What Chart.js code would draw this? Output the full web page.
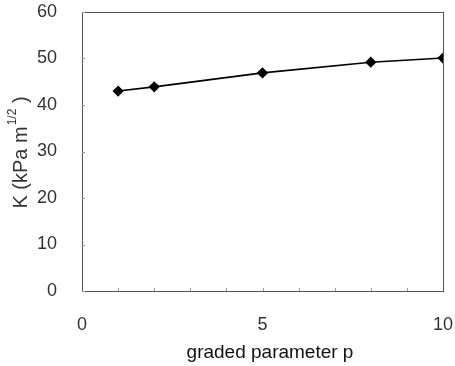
<!DOCTYPE html>
<html>
<head>
<meta charset="utf-8">
<script src="https://cdn.jsdelivr.net/npm/chart.js@4/dist/chart.umd.min.js"></script>
<style>
html,body{margin:0;padding:0;background:#fff;}
#wrap{width:455px;height:366px;}
</style>
</head>
<body>
<div id="wrap"><canvas id="c" width="455" height="366"></canvas></div>
<script>
const pValues = [1, 2, 5, 8, 10];
const kValues = [43.0, 43.9, 46.9, 49.2, 50.1];
const xTicks = [0, 5, 10];
const yTicks = [0, 10, 20, 30, 40, 50, 60];
const xTitle = 'graded parameter p';
const yTitleMain = 'K (kPa m';
const yTitleSup = '1/2';
const yTitleEnd = ' )';

const FONT = '"Liberation Sans", Arial, sans-serif';

const framePlugin = {
  id: 'frame',
  afterDatasetsDraw(chart) {
    const {ctx, chartArea: a, scales} = chart;
    ctx.save();
    ctx.strokeStyle = '#555';
    ctx.lineWidth = 1;
    ctx.strokeRect(a.left + 0.5, a.top + 0.5, a.right - a.left, a.bottom - a.top);
    ctx.strokeStyle = '#999';
    ctx.beginPath();
    yTicks.forEach(v => {
      const y = Math.round(scales.y.getPixelForValue(v)) + 0.5;
      ctx.moveTo(a.left, y); ctx.lineTo(a.left + 3, y);
    });
    for (let v = 1; v < 10; v++) {
      const x = Math.round(scales.x.getPixelForValue(v)) + 0.5;
      ctx.moveTo(x, a.bottom); ctx.lineTo(x, a.bottom - 3);
    }
    ctx.stroke();
    ctx.restore();

    // x-axis title
    ctx.save();
    ctx.fillStyle = '#111';
    ctx.font = '19px ' + FONT;
    ctx.textAlign = 'center';
    ctx.textBaseline = 'middle';
    ctx.fillText(xTitle, 270, 353);
    ctx.restore();

    // y-axis title with superscript
    ctx.save();
    ctx.fillStyle = '#333';
    ctx.translate(21, 153);
    ctx.rotate(-Math.PI / 2);
    ctx.textBaseline = 'middle';
    ctx.textAlign = 'left';
    const big = '20px ' + FONT;
    const small = '12px ' + FONT;
    ctx.font = big;
    const w1 = ctx.measureText(yTitleMain).width;
    const w3 = ctx.measureText(yTitleEnd).width;
    ctx.font = small;
    const w2 = ctx.measureText(yTitleSup).width;
    const x0 = -(w1 + w2 + w3) / 2;
    ctx.font = big;
    ctx.fillText(yTitleMain, x0, 0);
    ctx.font = small;
    ctx.fillText(yTitleSup, x0 + w1 + 1, -8);
    ctx.font = big;
    ctx.fillText(yTitleEnd, x0 + w1 + w2 + 1, 0);
    ctx.restore();
  }
};

function zeroPad(s) { s.paddingTop = 0; s.paddingBottom = 0; s.paddingLeft = 0; s.paddingRight = 0; }

new Chart(document.getElementById('c'), {
  type: 'line',
  data: {
    datasets: [{
      data: pValues.map((p, i) => ({x: p, y: kValues[i]})),
      borderColor: '#000',
      backgroundColor: '#000',
      borderWidth: 1.6,
      pointStyle: 'rectRot',
      pointRadius: 4.5,
      pointHoverRadius: 4.5,
      tension: 0
    }]
  },
  options: {
    responsive: false,
    animation: false,
    events: [],
    layout: {padding: {top: 12, right: 12, left: 0, bottom: 0}},
    plugins: {legend: {display: false}, tooltip: {enabled: false}},
    scales: {
      x: {
        type: 'linear', min: 0, max: 10,
        grid: {display: false},
        border: {display: false},
        afterBuildTicks: s => { s.ticks = xTicks.map(v => ({value: v})); },
        afterFit: s => { s.height = 75; zeroPad(s); },
        ticks: {
          padding: 15,
          color: '#333',
          font: {size: 18, family: FONT},
          maxRotation: 0
        }
      },
      y: {
        type: 'linear', min: 0, max: 60,
        grid: {display: false},
        border: {display: false},
        afterBuildTicks: s => { s.ticks = yTicks.map(v => ({value: v})); },
        afterFit: s => { s.width = 82; zeroPad(s); },
        ticks: {
          padding: 17,
          color: '#333',
          font: {size: 18, family: FONT}
        }
      }
    }
  },
  plugins: [framePlugin]
});
</script>
</body>
</html>
